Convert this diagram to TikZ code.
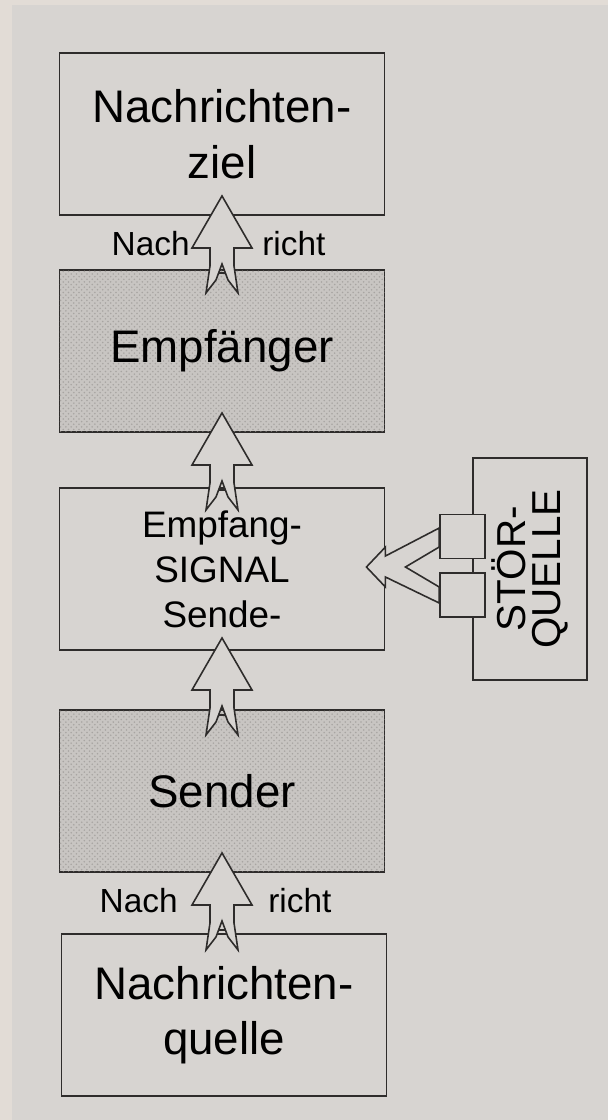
\documentclass[tikz,border=0pt]{standalone}
\usepackage{fontspec}
\setmainfont{Liberation Sans}
\usetikzlibrary{calc,positioning,patterns}

\definecolor{papier}{HTML}{D7D4D1}
\definecolor{rand}{HTML}{E2DCD6}
\definecolor{raster}{HTML}{C8C5C2}
\definecolor{punkte}{HTML}{A8A5A2}
\definecolor{strich}{HTML}{2E2C2B}

\tikzset{
  kasten/.style={draw=strich,line width=1.1pt,fill=papier,minimum width=6.5cm,minimum height=3.24cm,inner sep=0pt,align=center,font=\fontsize{26}{31.5}\selectfont},
  grau/.style={kasten,fill=raster,postaction={pattern=crosshatch dots,pattern color=punkte}},
  hohl/.style={draw=strich,line width=0.9pt,fill=papier,line join=miter},
  klotz/.style={hohl,minimum width=0.9cm,minimum height=0.88cm,inner sep=0pt},
  beschr/.style={inner sep=0pt,font=\fontsize{19}{22}\selectfont},
  hohlpfeil/.pic={
    \draw[hohl] (0,0) -- (30,52) -- (12,52) -- (12,70) -- (16,97) -- (6,84) -- (0,68)
      -- (-6,84) -- (-16,97) -- (-12,70) -- (-12,52) -- (-30,52) -- cycle;
    \draw[strich,line width=0.9pt] (-3.4,77) -- (3.4,77);
    \coordinate (-kopf) at (0,48);
  }
}

\begin{document}
\begin{tikzpicture}[x=0.02cm,y=-0.02cm]
                \useasboundingbox (0,0) rectangle (608,1120);
                \fill[rand] (0,0) rectangle (608,1120);
                \fill[papier] (12,5) rectangle (608,1120);
                % Kette
                \node[kasten] (ziel) at (222,134) {Nachrichten-\\ziel};
                \node[grau] (empf) at (222,351) {Empf\"anger};
                \node[kasten,font=\fontsize{21}{25.6}\selectfont] (signal) at (222,569) {Empfang-\\SIGNAL\\Sende-};
                \node[grau] (sender) at (222,791) {Sender};
                \node[kasten] (quelle) at (224,1015) {Nachrichten-\\quelle};
                % Pfeile
                \pic (p1) at ([yshift=0.4cm]ziel.south) {hohlpfeil};
                \pic (p2) at ([yshift=0.4cm]empf.south) {hohlpfeil};
                \pic (p3) at ([yshift=0.26cm]signal.south) {hohlpfeil};
                \pic (p4) at ([yshift=0.4cm]sender.south) {hohlpfeil};
                \node[beschr,left=0.64cm of p1-kopf] (nach1) {Nach};
                \node[beschr,right=0.8cm of p1-kopf] (richt1) {richt};
                \node[beschr,left=0.88cm of p4-kopf] (nach4) {Nach};
                \node[beschr,right=0.92cm of p4-kopf] (richt4) {richt};
                % Stoerquelle
                \node[kasten,minimum width=4.44cm,minimum height=2.28cm,rotate=90,font=\fontsize{23}{20}\selectfont] (stoer) at (530,569) {ST\"OR-\\QUELLE};
                \node[klotz] (stoerA) at (462.5,536.5) {};
                \node[klotz] (stoerB) at (462.5,595) {};
                \draw[hohl] ($(signal.east)+(-19,-2)$) -- ++(19,-20) -- ++(0,9)
                  -- ($(stoerA.west)+(0,-8.5)$) -- ($(stoerA.west)+(0,10.5)$)
                  -- ($(signal.east)+(20,-2)$)
                  -- ($(stoerB.west)+(0,-8)$) -- ($(stoerB.west)+(0,8)$)
                  -- ($(signal.east)+(0,8)$) -- ++(0,10) -- cycle;
            \end{tikzpicture}
\end{document}
